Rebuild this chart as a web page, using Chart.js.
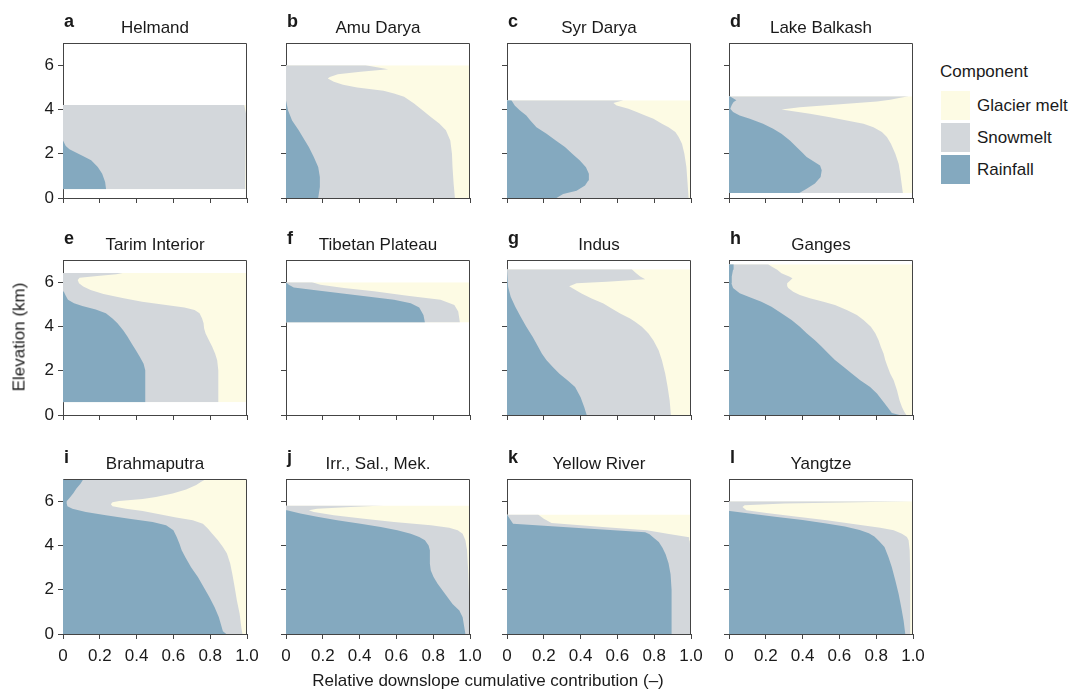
<!DOCTYPE html>
<html>
<head>
<meta charset="utf-8">
<script src="https://cdn.jsdelivr.net/npm/chart.js@4.4.0/dist/chart.umd.min.js"></script>
<style>
  body { margin:0; background:#fff; width:1073px; height:689px; overflow:hidden; position:relative;
         font-family:"Liberation Sans", Arial, Helvetica, sans-serif; color:#1a1a1a; }
  canvas { position:absolute; }
  .txt { position:absolute; white-space:nowrap; font-size:17px; line-height:17px; }
  .ttl { transform:translateX(-50%); }
  .let { font-weight:bold; font-size:18px; line-height:18px; }
  .sw { position:absolute; width:29px; height:29px; }
</style>
</head>
<body>
<script>
// Basins, panel letters and components
const basinNames = ['Helmand','Amu Darya','Syr Darya','Lake Balkash','Tarim Interior','Tibetan Plateau',
                    'Indus','Ganges','Brahmaputra','Irr., Sal., Mek.','Yellow River','Yangtze'];
const panelLetters = ['a','b','c','d','e','f','g','h','i','j','k','l'];
const componentNames = ['Glacier melt','Snowmelt','Rainfall'];
const elevTicks = [0, 2, 4, 6];
const fracTicks = [0, 0.2, 0.4, 0.6, 0.8, 1.0];

// Cumulative contribution profiles: [elevation (km), cumulative fraction]
// Rain = rainfall share; Snow = rainfall + snowmelt; Glacier = all three
const helmandRain = [[0.4,0.234],[0.72,0.229],[1.1,0.213],[1.4,0.189],[1.7,0.153],[1.9,0.108],[2.05,0.07],[2.2,0.035],[2.35,0.015],[2.6,0]];
const helmandSnow = [[0.4,0.99],[3.8,0.995],[4.2,0.985]];
const helmandGlacier = [[0.4,1],[4.2,1]];

const amuRain = [[0,0.175],[0.5,0.184],[0.95,0.184],[1.4,0.175],[1.85,0.151],[2.3,0.124],[2.76,0.091],[3.06,0.069],[3.5,0.033],[3.96,0.011],[4.42,0]];
const amuSnow = [[0,0.918],[0.65,0.911],[1.4,0.905],[2.0,0.902],[2.6,0.893],[3.06,0.869],[3.36,0.833],[3.66,0.787],[3.96,0.742],[4.27,0.696],[4.57,0.642],[4.72,0.587],[4.84,0.53],[4.99,0.387],[5.12,0.31],[5.25,0.26],[5.4,0.227],[5.47,0.238],[5.59,0.282],[5.7,0.405],[5.82,0.555],[6.0,0.433]];
const amuGlacier = [[0,1],[6.0,1]];

const syrRain = [[0,0.269],[0.18,0.305],[0.33,0.378],[0.56,0.424],[0.79,0.442],[1.09,0.445],[1.39,0.429],[1.69,0.396],[1.99,0.356],[2.3,0.315],[2.6,0.265],[2.9,0.215],[3.2,0.16],[3.5,0.127],[3.73,0.105],[3.96,0.069],[4.18,0.042],[4.41,0.024]];
const syrSnow = [[0,0.987],[0.6,0.982],[1.4,0.975],[2.0,0.964],[2.45,0.951],[2.75,0.933],[2.98,0.915],[3.2,0.878],[3.35,0.842],[3.58,0.796],[3.73,0.751],[3.88,0.705],[4.03,0.66],[4.18,0.596],[4.29,0.578],[4.41,0.633]];
const syrGlacier = [[0,1],[4.41,1]];

const balkashRain = [[0.23,0.382],[0.42,0.422],[0.65,0.467],[0.95,0.498],[1.25,0.504],[1.47,0.495],[1.62,0.467],[1.85,0.422],[2.08,0.395],[2.3,0.367],[2.6,0.331],[2.9,0.285],[3.13,0.24],[3.35,0.185],[3.58,0.113],[3.73,0.058],[3.88,0.022],[4.03,0.007],[4.2,0.015],[4.33,0.025],[4.42,0.04],[4.52,0.02],[4.59,0.004]];
const balkashSnow = [[0.23,0.945],[0.65,0.938],[1.1,0.931],[1.55,0.922],[2.0,0.904],[2.45,0.88],[2.75,0.858],[2.98,0.831],[3.2,0.785],[3.35,0.731],[3.5,0.64],[3.65,0.549],[3.8,0.44],[3.92,0.349],[4.0,0.285],[4.1,0.385],[4.23,0.604],[4.36,0.804],[4.44,0.876],[4.53,0.931],[4.59,0.976]];
const balkashGlacier = [[0.23,1],[4.59,1]];

const tarimRain = [[0.58,0.447],[2.02,0.447],[2.32,0.438],[2.62,0.418],[2.92,0.396],[3.23,0.373],[3.53,0.351],[3.83,0.327],[4.14,0.296],[4.36,0.269],[4.59,0.233],[4.77,0.178],[4.92,0.105],[5.05,0.06],[5.2,0.027],[5.38,0.015],[5.58,0.004],[5.73,0]];
const tarimSnow = [[0.58,0.844],[2.02,0.844],[2.47,0.838],[2.77,0.827],[3.08,0.811],[3.38,0.793],[3.68,0.775],[3.91,0.767],[4.14,0.764],[4.36,0.756],[4.59,0.742],[4.74,0.715],[4.86,0.66],[4.97,0.56],[5.12,0.43],[5.27,0.33],[5.47,0.22],[5.65,0.15],[5.8,0.11],[5.95,0.087],[6.1,0.08],[6.2,0.09],[6.29,0.2],[6.36,0.29],[6.41,0.324]];
const tarimGlacier = [[0.58,1],[6.41,1]];

const tibetRain = [[4.18,0.755],[4.52,0.747],[4.86,0.724],[5.05,0.678],[5.2,0.587],[5.35,0.442],[5.5,0.296],[5.65,0.151],[5.76,0.042],[5.88,0.015],[6.0,0]];
const tibetSnow = [[4.18,0.945],[4.67,0.936],[4.97,0.915],[5.2,0.84],[5.39,0.66],[5.59,0.478],[5.74,0.315],[5.88,0.187],[6.0,0.142]];
const tibetGlacier = [[4.18,1],[6.0,1]];

const indusRain = [[0,0.433],[0.35,0.42],[0.8,0.4],[1.26,0.37],[1.56,0.33],[1.86,0.285],[2.16,0.25],[2.47,0.215],[2.77,0.19],[3.07,0.17],[3.52,0.14],[3.98,0.105],[4.43,0.075],[4.89,0.045],[5.34,0.02],[5.79,0.006],[6.58,0]];
const indusSnow = [[0,0.891],[0.65,0.884],[1.26,0.873],[1.86,0.86],[2.47,0.842],[2.92,0.824],[3.37,0.796],[3.68,0.769],[3.98,0.733],[4.21,0.696],[4.36,0.669],[4.58,0.615],[4.81,0.569],[5.04,0.524],[5.26,0.46],[5.49,0.405],[5.72,0.356],[5.82,0.338],[5.95,0.378],[6.02,0.542],[6.13,0.751],[6.25,0.724],[6.4,0.702],[6.58,0.678]];
const indusGlacier = [[0,1],[6.58,1]];

const gangesRain = [[0,0.927],[0.09,0.885],[0.29,0.867],[0.59,0.84],[0.97,0.804],[1.27,0.767],[1.57,0.713],[1.87,0.667],[2.18,0.622],[2.48,0.576],[2.78,0.54],[3.08,0.504],[3.38,0.467],[3.69,0.422],[3.99,0.385],[4.29,0.34],[4.59,0.285],[4.89,0.231],[5.12,0.176],[5.32,0.113],[5.5,0.058],[5.73,0.022],[5.95,0.013],[6.25,0.015],[6.56,0.022],[6.81,0.025]];
const gangesSnow = [[0,0.964],[0.14,0.953],[0.36,0.94],[0.66,0.927],[1.12,0.913],[1.57,0.895],[1.87,0.876],[2.18,0.862],[2.48,0.849],[2.78,0.84],[3.08,0.825],[3.38,0.813],[3.69,0.795],[3.99,0.771],[4.29,0.731],[4.52,0.695],[4.74,0.64],[4.97,0.576],[5.12,0.513],[5.27,0.44],[5.42,0.385],[5.57,0.349],[5.73,0.322],[5.83,0.316],[5.95,0.316],[6.06,0.331],[6.18,0.345],[6.25,0.327],[6.4,0.285],[6.56,0.262],[6.71,0.231],[6.81,0.213]];
const gangesGlacier = [[0,1],[6.81,1]];

const brahmaRain = [[0,0.887],[0.12,0.869],[0.38,0.86],[0.76,0.847],[1.21,0.824],[1.66,0.796],[2.11,0.765],[2.57,0.733],[3.02,0.696],[3.47,0.665],[3.78,0.645],[4.08,0.633],[4.38,0.618],[4.68,0.6],[4.91,0.56],[5.06,0.487],[5.21,0.36],[5.36,0.233],[5.51,0.124],[5.66,0.051],[5.77,0.024],[5.89,0.02],[6.0,0.02],[6.12,0.033],[6.34,0.055],[6.57,0.073],[6.8,0.096],[7.0,0.111]];
const brahmaSnow = [[0,0.975],[0.3,0.969],[0.91,0.96],[1.51,0.945],[2.11,0.933],[2.72,0.92],[3.17,0.909],[3.63,0.891],[3.93,0.869],[4.23,0.842],[4.53,0.811],[4.76,0.787],[4.98,0.76],[5.14,0.705],[5.26,0.615],[5.41,0.524],[5.56,0.433],[5.66,0.342],[5.77,0.269],[5.86,0.26],[5.95,0.269],[6.01,0.305],[6.1,0.433],[6.19,0.505],[6.34,0.596],[6.53,0.669],[6.73,0.724],[6.88,0.751],[7.0,0.778]];
const brahmaGlacier = [[0,1],[7.0,1]];

const irrRain = [[0,0.975],[0.3,0.969],[0.76,0.96],[1.06,0.942],[1.36,0.905],[1.66,0.878],[1.96,0.851],[2.27,0.824],[2.57,0.802],[2.87,0.787],[3.17,0.782],[3.47,0.782],[3.78,0.782],[4.0,0.775],[4.23,0.755],[4.38,0.724],[4.53,0.678],[4.68,0.605],[4.83,0.515],[4.98,0.405],[5.14,0.278],[5.29,0.169],[5.44,0.078],[5.59,0.005],[5.66,0]];
const irrSnow = [[0,0.996],[1.5,0.996],[2.72,0.991],[3.78,0.984],[4.23,0.975],[4.53,0.96],[4.68,0.933],[4.8,0.887],[4.91,0.787],[5.06,0.587],[5.21,0.424],[5.36,0.26],[5.51,0.151],[5.59,0.124],[5.66,0.169],[5.74,0.351],[5.8,0.533]];
const irrGlacier = [[0,1],[5.8,1]];

const yellowRain = [[0,0.896],[1.2,0.896],[2.0,0.893],[2.7,0.889],[3.2,0.878],[3.6,0.862],[3.9,0.845],[4.15,0.825],[4.35,0.797],[4.5,0.775],[4.6,0.751],[4.79,0.39],[4.98,0.033],[5.2,0.015],[5.4,0]];
const yellowSnow = [[0,0.996],[3.9,0.996],[4.22,0.993],[4.37,0.99],[4.52,0.88],[4.68,0.76],[4.83,0.52],[5.01,0.242],[5.2,0.2],[5.4,0.169]];
const yellowGlacier = [[0,1],[5.4,1]];

const yangtzeRain = [[0,0.958],[0.6,0.949],[1.21,0.936],[1.81,0.922],[2.42,0.904],[3.02,0.885],[3.47,0.867],[3.93,0.845],[4.2,0.815],[4.4,0.79],[4.55,0.76],[4.7,0.71],[4.85,0.63],[5.0,0.52],[5.15,0.4],[5.3,0.25],[5.45,0.1],[5.56,0]];
const yangtzeSnow = [[0,0.989],[2.72,0.985],[3.78,0.982],[4.23,0.976],[4.38,0.967],[4.53,0.94],[4.68,0.895],[4.8,0.822],[4.95,0.695],[5.14,0.531],[5.32,0.349],[5.47,0.204],[5.59,0.095],[5.74,0.073],[5.82,0.085],[5.89,0.3],[5.95,0.7],[6.0,1.0]];
const yangtzeGlacier = [[0,1],[6.0,1]];

const basinProfiles = [
  [helmandRain, helmandSnow, helmandGlacier],
  [amuRain, amuSnow, amuGlacier],
  [syrRain, syrSnow, syrGlacier],
  [balkashRain, balkashSnow, balkashGlacier],
  [tarimRain, tarimSnow, tarimGlacier],
  [tibetRain, tibetSnow, tibetGlacier],
  [indusRain, indusSnow, indusGlacier],
  [gangesRain, gangesSnow, gangesGlacier],
  [brahmaRain, brahmaSnow, brahmaGlacier],
  [irrRain, irrSnow, irrGlacier],
  [yellowRain, yellowSnow, yellowGlacier],
  [yangtzeRain, yangtzeSnow, yangtzeGlacier]
];

// Styling
const RAIN_COL = '#84a9bf';
const SNOW_COL = '#d3d7db';
const GLACIER_COL = '#fdfbe4';
const AXIS_COL = '#444444';
const TEXT_COL = '#1a1a1a';
const FONT = '"Liberation Sans", Arial, Helvetica, sans-serif';

// Panel grid geometry (plot area, page pixels)
const colLeft = [63, 286, 507, 729];
const rowTop = [43, 260, 479];
const plotW = 184, plotH = 155;
const marginL = 60, marginT = 20, marginR = 22, marginB = 40;

const framePlugin = {
  id: 'frame',
  afterDraw(chart) {
    const a = chart.chartArea, ctx = chart.ctx;
    ctx.save();
    ctx.strokeStyle = AXIS_COL;
    ctx.lineWidth = 1;
    ctx.beginPath();
    ctx.moveTo(Math.round(a.left) + 0.5, Math.round(a.top) + 0.5);
    ctx.lineTo(Math.round(a.right) - 0.5, Math.round(a.top) + 0.5);
    ctx.lineTo(Math.round(a.right) - 0.5, Math.round(a.bottom));
    ctx.stroke();
    ctx.restore();
  }
};

function addText(text, cls, left, top, extraStyle) {
  const d = document.createElement('div');
  d.className = 'txt ' + cls;
  d.textContent = text;
  d.style.left = left + 'px';
  d.style.top = top + 'px';
  if (extraStyle) Object.assign(d.style, extraStyle);
  document.body.appendChild(d);
  return d;
}

const toPts = arr => arr.map(p => ({ x: p[1], y: p[0] }));

basinNames.forEach((name, i) => {
  const col = i % 4, row = Math.floor(i / 4);
  const pl = colLeft[col], pt = rowTop[row];
  const cv = document.createElement('canvas');
  cv.width = marginL + plotW + marginR;
  cv.height = marginT + plotH + marginB;
  cv.style.left = (pl - marginL) + 'px';
  cv.style.top = (pt - marginT) + 'px';
  document.body.appendChild(cv);

  const [rain, snow, glacier] = basinProfiles[i];
  const showX = row === 2, showY = col === 0;
  const ds = (arr, color) => ({
    data: toPts(arr), backgroundColor: color, borderWidth: 0,
    pointRadius: 0, fill: 'origin', tension: 0
  });

  new Chart(cv, {
    type: 'line',
    data: { datasets: [ds(rain, RAIN_COL), ds(snow, SNOW_COL), ds(glacier, GLACIER_COL)] },
    options: {
      indexAxis: 'y',
      responsive: false,
      animation: false,
      events: [],
      layout: { padding: { top: marginT, right: marginR, left: 0, bottom: 0 } },
      plugins: { legend: { display: false }, tooltip: { enabled: false } },
      scales: {
        x: {
          type: 'linear', min: 0, max: 1,
          afterBuildTicks: s => { s.ticks = fracTicks.map(v => ({ value: v })); },
          afterFit: s => { s.height = marginB; },
          ticks: {
            display: showX, padding: 7, color: TEXT_COL, maxRotation: 0, autoSkip: false,
            font: { family: FONT, size: 17 },
            callback: v => (v === 0 ? '0' : v.toFixed(1))
          },
          grid: { drawOnChartArea: false, drawTicks: true, tickLength: 5, color: AXIS_COL, tickColor: AXIS_COL },
          border: { display: true, color: AXIS_COL, width: 1 }
        },
        y: {
          type: 'linear', min: 0, max: 7,
          afterBuildTicks: s => { s.ticks = elevTicks.map(v => ({ value: v })); },
          afterFit: s => { s.width = marginL; },
          ticks: {
            display: showY, padding: 4, color: TEXT_COL, autoSkip: false,
            font: { family: FONT, size: 17 },
            callback: v => String(v)
          },
          grid: { drawOnChartArea: false, drawTicks: true, tickLength: 5, color: AXIS_COL, tickColor: AXIS_COL },
          border: { display: true, color: AXIS_COL, width: 1 }
        }
      }
    },
    plugins: [framePlugin]
  });

  // Panel letter and basin title
  addText(panelLetters[i], 'let', pl + 1, pt - 31);
  addText(name, 'ttl', pl + plotW / 2, pt - 24);
});

// Axis titles
addText('Elevation (km)', '', 19, 337, { transform: 'translate(-50%,-50%) rotate(-90deg)' });
addText('Relative downslope cumulative contribution (\u2013)', 'ttl', 488, 672);

// Legend
addText('Component', '', 940, 63);
const legendCols = [GLACIER_COL, SNOW_COL, RAIN_COL];
componentNames.forEach((c, k) => {
  const sw = document.createElement('div');
  sw.className = 'sw';
  sw.style.left = '941px';
  sw.style.top = (91 + k * 32) + 'px';
  sw.style.background = legendCols[k];
  document.body.appendChild(sw);
  addText(c, '', 977, 97 + k * 32);
});
</script>
</body>
</html>
